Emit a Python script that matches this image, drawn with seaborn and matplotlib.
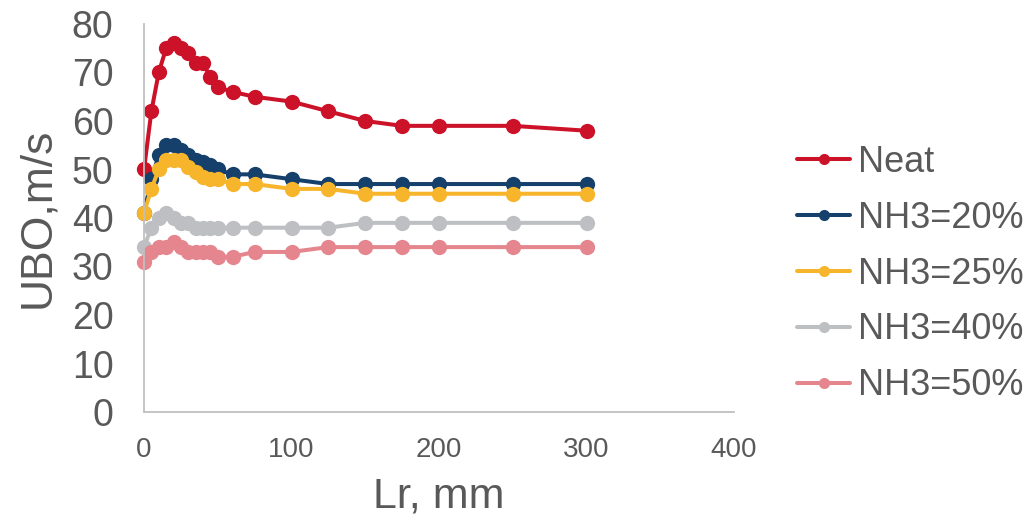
import numpy as np
import pandas as pd
import matplotlib
matplotlib.use("Agg")
import matplotlib.pyplot as plt
from matplotlib.lines import Line2D
import seaborn as sns

lr = [0, 5, 10, 15, 20, 25, 30, 35, 40, 45, 50, 60, 75, 100, 125, 150, 175, 200, 250, 300]
neat = [50, 62, 70, 75, 76, 75, 74, 72, 72, 69, 67, 66, 65, 64, 62, 60, 59, 59, 59, 58]
nh3_20 = [41, 48, 53, 55, 55, 54, 53, 52, 51.5, 51, 50, 49, 49, 48, 47, 47, 47, 47, 47, 47]
nh3_25 = [41, 46, 50, 52, 52, 52, 50.5, 49.5, 48.5, 48, 48, 47, 47, 46, 46, 45, 45, 45, 45, 45]
nh3_40 = [34, 38, 40, 41, 40, 39, 39, 38, 38, 38, 38, 38, 38, 38, 38, 39, 39, 39, 39, 39]
nh3_50 = [31, 33, 34, 34, 35, 34, 33, 33, 33, 33, 32, 32, 33, 33, 34, 34, 34, 34, 34, 34]

series_names = ["Neat", "NH3=20%", "NH3=25%", "NH3=40%", "NH3=50%"]
series_vals = [neat, nh3_20, nh3_25, nh3_40, nh3_50]
colors = ["#CC1229", "#15406B", "#F7B52C", "#BEBFC3", "#E5868F"]
x_ticks = [0, 100, 200, 300, 400]
y_ticks = [0, 10, 20, 30, 40, 50, 60, 70, 80]

df = pd.concat(
    [pd.DataFrame({"Lr": lr, "UBO": v, "series": n}) for n, v in zip(series_names, series_vals)],
    ignore_index=True,
)
palette = dict(zip(series_names, colors))

sns.set_theme(style="white")
plt.rcParams["font.family"] = ["Liberation Sans", "DejaVu Sans"]

fig = plt.figure(figsize=(10.36, 5.23), dpi=100)
ax = fig.add_axes([144 / 1036, 1 - 412 / 523, (734 - 144) / 1036, (412 - 24) / 523])

sns.lineplot(
    data=df, x="Lr", y="UBO", hue="series", hue_order=series_names, palette=palette,
    marker="o", markersize=11, markeredgewidth=0, linewidth=2.9, ax=ax,
    legend=False, clip_on=False, sort=True,
)

ax.set_xlim(0, 400)
ax.set_ylim(0, 80)
ax.set_xticks(x_ticks)
ax.set_yticks(y_ticks)
ax.tick_params(axis="x", labelsize=20, colors="#595959", length=0, pad=18)
ax.tick_params(axis="y", labelsize=27, colors="#595959", length=0, pad=22)
for s in ["top", "right"]:
    ax.spines[s].set_visible(False)
for s in ["left", "bottom"]:
    ax.spines[s].set_color("#BFBFBF")
    ax.spines[s].set_linewidth(1.3)

ax.set_xlabel("Lr, mm", fontsize=31, color="#595959", labelpad=10)
ax.set_ylabel("UBO,m/s", fontsize=32, color="#595959", labelpad=10)

handles = [
    Line2D([0], [0], color=c, lw=2.9, marker="o", markersize=8, markeredgewidth=0)
    for c in colors
]
fig.legend(
    handles, series_names, loc="center left", bbox_to_anchor=(797 / 1036, 1 - 274 / 523),
    frameon=False, fontsize=26, labelcolor="#595959", handlelength=1.47,
    handletextpad=0.22, labelspacing=0.58, borderpad=0, borderaxespad=0,
)

fig.savefig("out.png", dpi=100)
